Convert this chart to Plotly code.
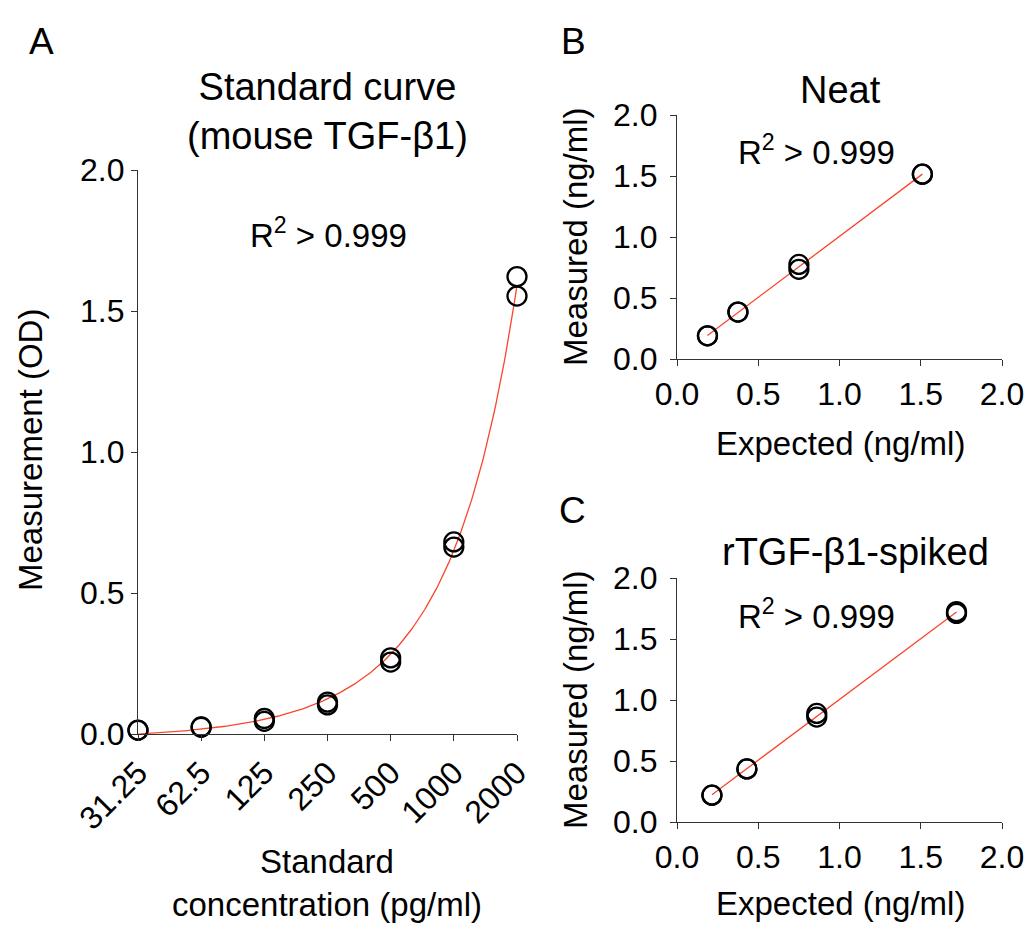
import numpy as np
import plotly.graph_objects as go

# ---------------- data ----------------
conc_labels = ["31.25", "62.5", "125", "250", "500", "1000", "2000"]
conc = [31.25, 62.5, 125, 250, 500, 1000, 2000]
od_rep1 = [0.014, 0.025, 0.055, 0.113, 0.270, 0.681, 1.622]
od_rep2 = [0.013, 0.024, 0.045, 0.103, 0.255, 0.663, 1.553]

neat_expected = [0.1875, 0.375, 0.75, 1.51]
neat_rep1 = [0.19, 0.385, 0.775, 1.515]
neat_rep2 = [0.19, 0.385, 0.735, 1.515]

spiked_expected = [0.215, 0.43, 0.86, 1.72]
spiked_rep1 = [0.22, 0.435, 0.89, 1.725]
spiked_rep2 = [0.22, 0.435, 0.86, 1.71]

FONT = "Liberation Sans, Arial, sans-serif"
RED = "rgb(250,70,45)"
W, H = 1029, 925

fig = go.Figure()

marker = dict(symbol="circle-open", size=19, color="black", line=dict(width=2.3, color="black"))

# ---- panel A ----
xs = np.array(conc * 2)
ys = np.array(od_rep1 + od_rep2)
coef = np.polyfit(xs, ys, 2)
xfit = np.geomspace(conc[0], conc[-1], 300)
yfit = np.polyval(coef, xfit)
fig.add_trace(go.Scatter(x=xfit, y=yfit, mode="lines", line=dict(color=RED, width=1.3),
                         xaxis="x", yaxis="y", showlegend=False, hoverinfo="skip"))
for rep in (od_rep1, od_rep2):
    fig.add_trace(go.Scatter(x=conc, y=rep, mode="markers", marker=marker,
                             xaxis="x", yaxis="y", showlegend=False, cliponaxis=False))

# ---- panels B and C ----
def add_panel(expected, r1, r2, xa, ya):
    ex = np.array(expected * 2)
    me = np.array(r1 + r2)
    c = np.polyfit(ex, me, 1)
    xl = np.array([min(expected), max(expected)])
    fig.add_trace(go.Scatter(x=xl, y=np.polyval(c, xl), mode="lines",
                             line=dict(color=RED, width=1.3), xaxis=xa, yaxis=ya,
                             showlegend=False, hoverinfo="skip"))
    for rep in (r1, r2):
        fig.add_trace(go.Scatter(x=expected, y=rep, mode="markers", marker=marker,
                                 xaxis=xa, yaxis=ya, showlegend=False, cliponaxis=False))

add_panel(neat_expected, neat_rep1, neat_rep2, "x2", "y2")
add_panel(spiked_expected, spiked_rep1, spiked_rep2, "x3", "y3")

def px_x(p):
    return p / W

def px_y(p):
    return 1 - p / H

axis_common = dict(showline=True, linecolor="#333333", linewidth=1.3, ticks="outside",
                   ticklen=6, tickwidth=1.2, tickcolor="#333333", showgrid=False,
                   zeroline=False, automargin=False,
                   tickfont=dict(family=FONT, size=32, color="black"))
ticks_02 = dict(tickvals=[0, 0.5, 1, 1.5, 2], ticktext=["0.0", "0.5", "1.0", "1.5", "2.0"],
                range=[0, 2])

fig.update_layout(
    width=W, height=H, margin=dict(l=0, r=0, t=0, b=0, autoexpand=False),
    paper_bgcolor="white", plot_bgcolor="white",
    font=dict(family=FONT, color="black"),
    xaxis=dict(axis_common, type="log", domain=[px_x(138), px_x(517)],
               range=[np.log10(conc[0]), np.log10(conc[-1])],
               tickvals=conc, ticktext=conc_labels, tickangle=-45, anchor="y"),
    yaxis=dict(axis_common, **ticks_02, domain=[px_y(734), px_y(170)], anchor="x"),
    xaxis2=dict(axis_common, **ticks_02, domain=[px_x(677), px_x(1002)], anchor="y2"),
    yaxis2=dict(axis_common, **ticks_02, domain=[px_y(359), px_y(115)], anchor="x2",
                ticklabelstandoff=6),
    xaxis3=dict(axis_common, **ticks_02, domain=[px_x(677), px_x(1002)], anchor="y3"),
    yaxis3=dict(axis_common, **ticks_02, domain=[px_y(822), px_y(578)], anchor="x3",
                ticklabelstandoff=6),
)

def text(t, x, y, size, angle=0):
    fig.add_annotation(text=t, x=px_x(x), y=px_y(y), xref="paper", yref="paper",
                       showarrow=False, xanchor="center", yanchor="middle", textangle=angle,
                       font=dict(family=FONT, size=size, color="black"))

R2 = "R<sup>2</sup> > 0.999"
# panel letters
text("A", 41, 42, 37)
text("B", 573, 42, 37)
text("C", 572, 510, 37)
# panel A
text("Standard curve<br>(mouse TGF-β1)", 327, 112, 38)
text(R2, 328, 233, 33)
text("Standard<br>concentration (pg/ml)", 327, 883, 33)
text("Measurement (OD)", 30, 450, 33, -90)
# panel B
text("Neat", 840, 90, 38)
text(R2, 816, 150, 33)
text("Expected (ng/ml)", 840, 443, 33)
text("Measured (ng/ml)", 575, 237, 33, -90)
# panel C
text("rTGF-β1-spiked", 855, 552, 38)
text(R2, 816, 614, 33)
text("Expected (ng/ml)", 840, 903, 33)
text("Measured (ng/ml)", 575, 700, 33, -90)

fig.write_html("out.html")
